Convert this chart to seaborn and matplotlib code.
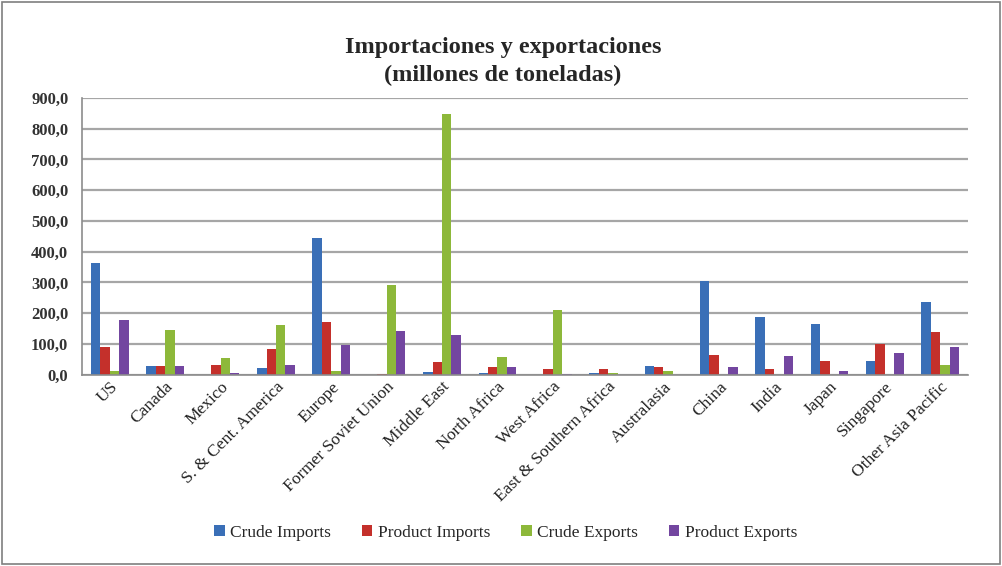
import pandas as pd
import seaborn as sns
import matplotlib.pyplot as plt
from matplotlib.ticker import FuncFormatter, FixedLocator
from matplotlib.patches import Rectangle

regions = ['US', 'Canada', 'Mexico', 'S. & Cent. America', 'Europe', 'Former Soviet Union',
           'Middle East', 'North Africa', 'West Africa', 'East & Southern Africa', 'Australasia',
           'China', 'India', 'Japan', 'Singapore', 'Other Asia Pacific']
crude_imports = [363, 29, 0, 22, 446, 0, 8, 7, 0, 7, 27, 306, 186, 166, 43, 238]
product_imports = [89, 27, 31, 85, 172, 2, 41, 25, 18, 18, 25, 63, 20, 45, 100, 139]
crude_exports = [13, 146, 54, 162, 11, 292, 847, 59, 211, 4, 12, 0, 0, 0, 0, 32]
product_exports = [178, 27, 7, 30, 98, 141, 128, 25, 2, 0, 0, 25, 60, 13, 70, 89]
series = ['Crude Imports', 'Product Imports', 'Crude Exports', 'Product Exports']
colors = ['#3a6fb7', '#c4302b', '#8db83a', '#7346a0']

rows = []
for name, vals in zip(series, [crude_imports, product_imports, crude_exports, product_exports]):
    for r, v in zip(regions, vals):
        rows.append({'region': r, 'serie': name, 'valor': v})
df = pd.DataFrame(rows)

sns.set_style('white')
plt.rcParams['font.family'] = ['Liberation Serif', 'DejaVu Serif']

fig = plt.figure(figsize=(10.02, 5.66), dpi=100)
ax = fig.add_axes([0.082, 0.338, 0.884, 0.489])
sns.barplot(data=df, x='region', y='valor', hue='serie', palette=colors, width=0.68,
            ax=ax, saturation=1, linewidth=0)

ax.set_ylim(0, 900)
ax.set_yticks(range(0, 901, 100))
ax.yaxis.set_major_formatter(FuncFormatter(lambda v, p: f'{v:.1f}'.replace('.', ',')))
ax.grid(axis='y', color='#a6a6a6', linewidth=1.6)
ax.set_axisbelow(True)
ax.set_xlim(-0.5, len(regions) - 0.5)
for s in ['top', 'right']:
    ax.spines[s].set_visible(False)
for s in ['left', 'bottom']:
    ax.spines[s].set_color('#8c8c8c')
    ax.spines[s].set_linewidth(1.2)
ax.set_xlabel('')
ax.set_ylabel('')
ax.tick_params(axis='y', labelsize=12, length=0, pad=10)
for t in ax.get_yticklabels():
    t.set_fontweight('bold')
    t.set_color('#333333')
ax.tick_params(axis='x', which='major', length=0, labelsize=12.5, pad=3)
ax.xaxis.set_minor_locator(FixedLocator([i + 0.5 for i in range(-1, len(regions))]))
ax.tick_params(axis='x', which='minor', length=5, color='#8c8c8c', width=1)
plt.setp(ax.get_xticklabels(), rotation=45, ha='right', rotation_mode='anchor', color='#222222')

ax.set_title('Importaciones y exportaciones\n(millones de toneladas)', fontsize=17.5,
             fontweight='bold', pad=12, linespacing=1.45, x=0.475)

handles, labels = ax.get_legend_handles_labels()
ax.legend(handles, labels, loc='upper center', bbox_to_anchor=(0.478, -0.485), ncol=4,
          frameon=False, fontsize=12.5, handlelength=0.6, handleheight=0.6,
          handletextpad=0.3, columnspacing=1.8)

fig.patches.append(Rectangle((0.002, 0.004), 0.996, 0.992, transform=fig.transFigure,
                             fill=False, edgecolor='#7f7f7f', linewidth=1.2))
fig.savefig('out.png', dpi=100)
